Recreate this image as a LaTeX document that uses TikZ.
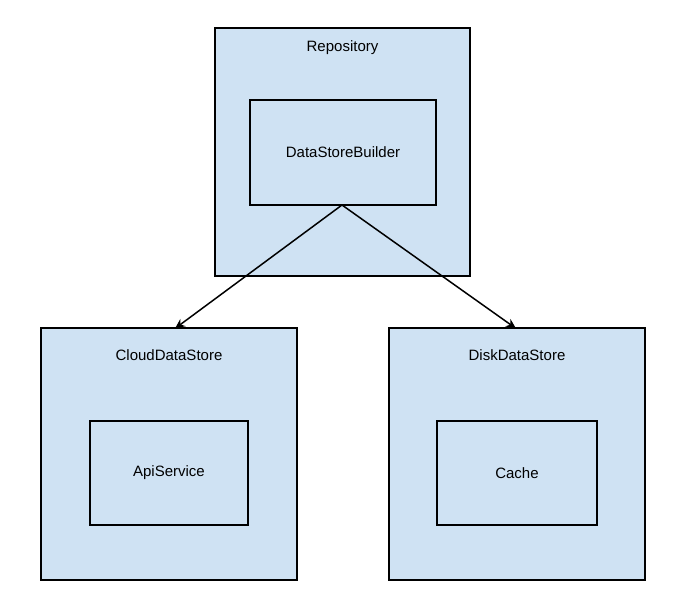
\documentclass[tikz,border=0pt]{standalone}
\usepackage{fontspec}
\setmainfont{Liberation Sans}
\usetikzlibrary{arrows.meta}
\definecolor{boxblue}{HTML}{CFE2F3}
\begin{document}
\begin{tikzpicture}[x=1pt,y=-1pt,
  box/.style={draw=black,fill=boxblue,line width=1.1pt,inner sep=0pt},
  lbl/.style={font=\fontsize{15}{18}\selectfont},
  arr/.style={draw=black,line width=1.5pt,-{Stealth[length=10pt,width=9pt]}}]
\useasboundingbox (0,0) rectangle (686,608);
\node[box,minimum width=255pt,minimum height=248pt] (repo) at (342.5,152) {};
\node[lbl] (repot) at (342.5,48) {Repository};
\node[box,minimum width=186pt,minimum height=105pt,lbl] (dsb) at (343,152.5) {DataStoreBuilder};
\node[box,minimum width=256pt,minimum height=252pt] (cloud) at (169,454) {};
\node[lbl] (cloudt) at (169,355) {CloudDataStore};
\node[box,minimum width=158pt,minimum height=104pt,lbl] (api) at (169,473) {ApiService};
\node[box,minimum width=256pt,minimum height=252pt] (disk) at (517,454) {};
\node[lbl] (diskt) at (517,355) {DiskDataStore};
\node[box,minimum width=160pt,minimum height=104pt,lbl] (cache) at (517,473) {Cache};
\coordinate (src) at (342,205);
\draw[arr] (src) -- (175,328.5);
\draw[arr] (src) -- (516,328.5);
\end{tikzpicture}
\end{document}
